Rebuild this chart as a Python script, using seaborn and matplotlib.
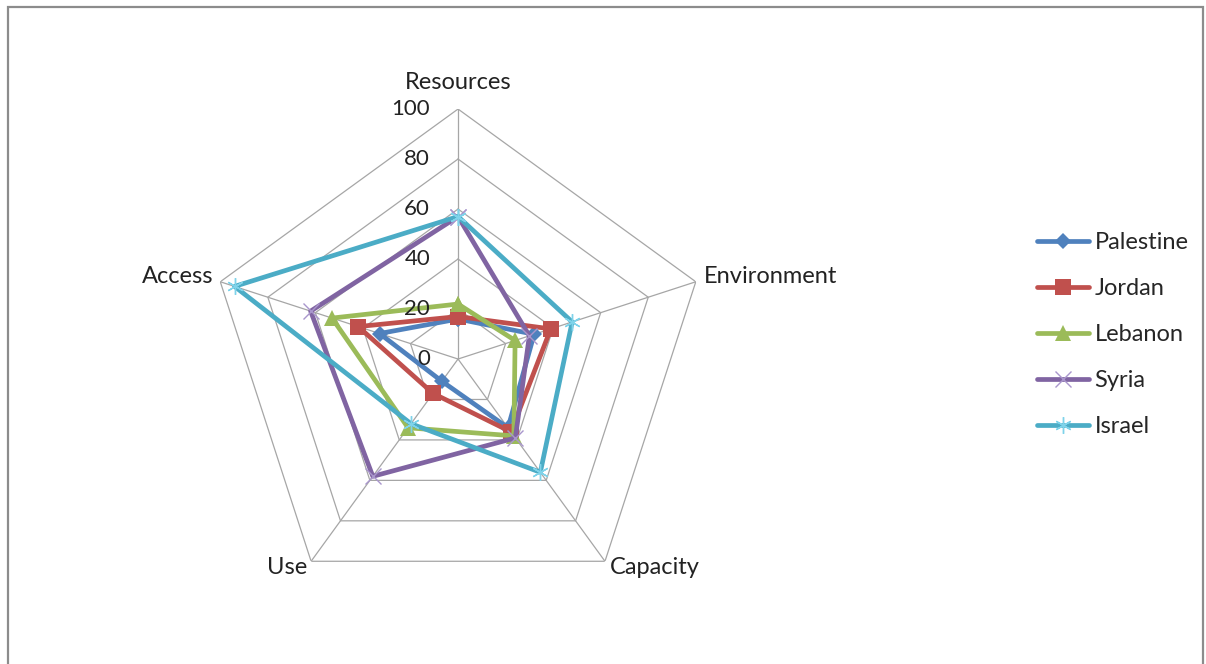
import numpy as np
import pandas as pd
import matplotlib.pyplot as plt
import seaborn as sns
from matplotlib.patches import Rectangle

# chart data
categories = ["Resources", "Environment", "Capacity", "Use", "Access"]
countries = ["Palestine", "Jordan", "Lebanon", "Syria", "Israel"]
palestine = [16, 32, 34, 11, 33]
jordan = [17, 39, 36, 17, 42]
lebanon = [22, 24, 38, 34, 53]
syria = [57, 30, 39, 58, 62]
israel = [57, 48, 56, 32, 94]
radial_ticks = [0, 20, 40, 60, 80, 100]

colors = ["#4F81BD", "#C0504D", "#9BBB59", "#8064A2", "#4BACC6"]
marker_colors = ["#4F81BD", "#C0504D", "#9BBB59", "#A996CC", "#7FD3EA"]
markers = ["D", "s", "^", "x", (6, 2, 0)]
marker_sizes = [8, 12, 12, 11, 12]

sns.set_theme(style="white")
plt.rcParams["font.family"] = ["Lato", "DejaVu Sans"]

# long table, each polygon closed by repeating the first point
n = len(categories)
angles = np.arange(n) * 2 * np.pi / n
rows = []
for name, vals in zip(countries, [palestine, jordan, lebanon, syria, israel]):
    for i in range(n + 1):
        rows.append({"country": name, "theta": angles[i % n] + (2 * np.pi if i == n else 0),
                     "value": vals[i % n]})
df = pd.DataFrame(rows)

fig = plt.figure(figsize=(12.06, 6.64), dpi=100)
ax = fig.add_axes([0.1725, 0.0828, 0.4146, 0.753], projection="polar")
ax.set_theta_zero_location("N")
ax.set_theta_direction(-1)
ax.set_ylim(0, 100)
ax.grid(False)
ax.spines["polar"].set_visible(False)
ax.set_xticks([])
ax.set_yticks([])
ax.set_facecolor("none")

# pentagon grid + spokes
grid_color = "#A6A6A6"
closed = np.append(angles, angles[0] + 2 * np.pi)
for r in radial_ticks[1:]:
    ax.plot(closed, [r] * len(closed), color=grid_color, lw=0.9, zorder=1)
for a in angles:
    ax.plot([a, a], [0, 100], color=grid_color, lw=0.9, zorder=1)

sns.lineplot(data=df, x="theta", y="value", hue="country", hue_order=countries,
             palette=colors, sort=False, estimator=None, legend=False,
             ax=ax, zorder=3)

data_lines = ax.lines[-len(countries):]
for line, m, mc, ms in zip(data_lines, markers, marker_colors, marker_sizes):
    line.set_linewidth(3.4)
    line.set_marker(m)
    line.set_markersize(ms)
    line.set_markerfacecolor(mc)
    line.set_markeredgecolor(mc)
    line.set_markeredgewidth(1.0 if m in ("x", (6, 2, 0)) else 0)

ax.set_xlabel("")
ax.set_ylabel("")

# radial tick labels
for t in radial_ticks:
    ax.annotate(str(t), xy=(0, t), xytext=(-28, 0), textcoords="offset pixels",
                ha="right", va="center", fontsize=16, color="#222222")

# category labels
offsets = [(0, 27, "center"), (8, 5, "left"), (5, -6, "left"), (-4, -6, "right"), (-7, 5, "right")]
for a, lab, (dx, dy, ha) in zip(angles, categories, offsets):
    ax.annotate(lab, xy=(a, 100), xytext=(dx, dy), textcoords="offset pixels",
                ha=ha, va="center", fontsize=17, color="#222222")

fig.legend(data_lines, countries, loc="center left", bbox_to_anchor=(0.842, 0.496),
           frameon=False, fontsize=17, handlelength=2.2, handletextpad=0.25,
           labelspacing=1.06)

# outer chart border
fig.patches.append(Rectangle((8 / 1206, -0.05), 1195 / 1206, 1.05 - 7 / 664,
                             transform=fig.transFigure, fill=False,
                             edgecolor="#8C8C8C", lw=1.6))

fig.savefig("out.png", dpi=100)
